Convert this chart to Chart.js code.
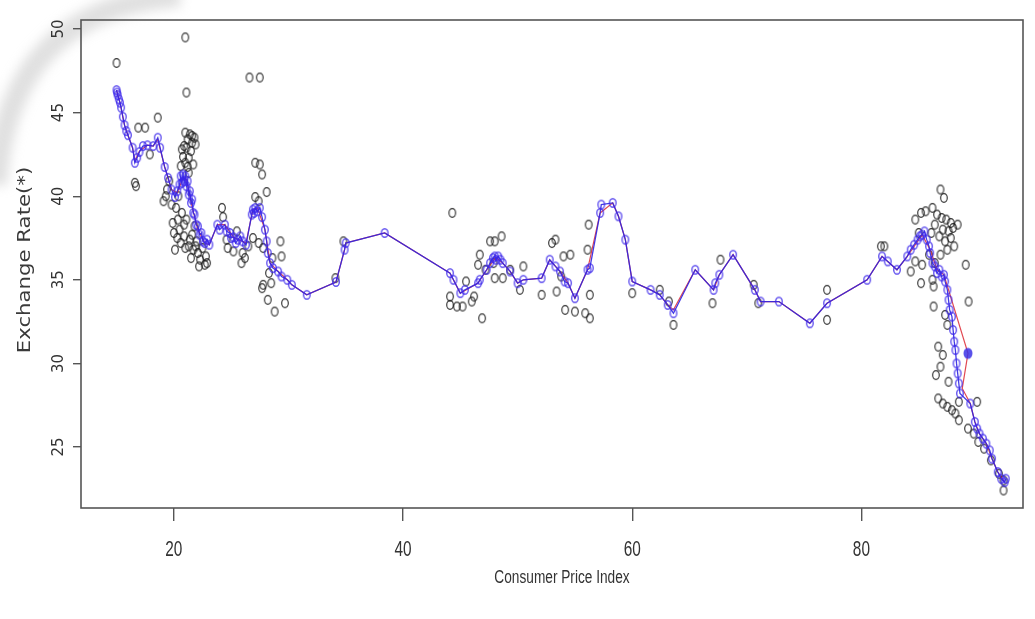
<!DOCTYPE html>
<html>
<head>
<meta charset="utf-8">
<script src="https://cdn.jsdelivr.net/npm/chart.js@4"></script>
<style>
  html, body { margin: 0; padding: 0; background: #ffffff; }
  #wrap { width: 1035px; height: 619px; position: relative; }
  canvas { display: block; }
</style>
</head>
<body>
<div id="wrap"><canvas id="c" width="1035" height="619"></canvas></div>
<script>
// ---------------- data ----------------
const xTickValues = [20, 40, 60, 80];
const xTickLabels = ['20', '40', '60', '80'];
const yTickValues = [25, 30, 35, 40, 45, 50];
const yTickLabels = ['25', '30', '35', '40', '45', '50'];
const xAxisTitle = 'Consumer Price Index';
const yAxisTitle = 'Exchange Rate(*)';

// observed points (black open circles)
const obsX = [15.0,21.0,21.1,18.6,16.9,17.5,16.6,16.7,17.9,19.4,19.6,
  21.0,21.4,21.8,21.6,21.2,20.7,21.1,21.6,20.8,21.2,21.5,21.9,20.9,21.3,21.7,21.0,21.3,20.6,
  20.35,20.5,20.3,20.9,21.4,21.7,22.1,22.7,22.3,20.7,21.1,21.9,20.1,20.0,20.2,21.3,21.6,22.0,22.5,22.8,21.0,21.5,22.2,20.6,20.9,21.8,19.9,20.4,19.8,19.3,19.1,
  24.2,24.3,24.7,25.2,26.0,25.9,22.9,26.9,25.5,26.5,24.6,26.2,
  26.6,27.5,27.1,27.5,27.7,27.1,28.1,27.4,29.3,29.4,27.8,27.7,28.5,28.2,28.8,29.7,27.4,27.8,28.6,28.3,
  34.1,34.8,44.3,44.1,44.1,44.7,45.2,46.0,46.9,46.7,46.55,47.6,48.0,48.6,48.0,48.7,50.5,50.2,53.0,53.3,54.0,52.1,53.4,54.15,55.0,55.9,56.3,56.1,56.2,56.3,49.35,47.2,47.9,45.5,46.2,53.8,54.6,
  60.0,62.4,63.6,63.2,67.7,67.0,71.0,70.6,77.0,77.0,81.7,
  86.9,87.2,84.7,85.2,85.6,86.2,86.6,87.0,87.4,87.8,86.4,87.1,87.6,88.0,86.8,87.3,87.8,86.1,88.1,87.5,86.9,89.1,89.35,84.7,85.3,85.2,84.3,82.0,86.2,86.3,86.3,87.3,87.5,86.7,87.1,86.9,86.5,87.6,86.7,87.1,87.5,87.9,88.2,88.5,89.3,89.8,90.2,90.7,91.3,90.1,88.5,92.0,92.4,92.4,85.9,86.4,88.4,85.0];
const obsY = [47.97,49.5,46.2,44.7,44.1,44.1,40.8,40.6,42.5,40.4,40.9,
  43.8,43.7,43.5,43.6,43.4,42.8,42.9,43.2,42.35,41.75,42.7,43.1,43.0,42.3,41.9,42.0,41.4,41.8,
  38.6,38.0,37.5,37.6,37.4,36.8,36.6,35.9,36.2,39.0,38.6,37.0,36.8,37.8,39.3,37.0,37.7,37.3,36.9,36.4,36.9,36.3,35.8,37.2,38.3,38.2,38.4,40.0,39.5,40.0,39.7,
  39.3,38.75,36.9,36.7,36.6,36.0,36.0,37.5,37.9,37.0,37.4,36.3,
  47.1,47.1,42.0,41.9,41.3,39.95,40.25,39.7,37.3,36.4,34.7,34.5,34.8,33.8,33.1,33.6,37.2,36.9,36.3,35.4,
  35.1,37.3,39.0,34.0,33.5,33.4,33.4,33.7,32.7,36.5,35.9,37.3,37.3,37.6,35.1,35.1,35.8,34.4,37.2,37.4,36.4,34.1,34.3,33.2,33.1,33.0,32.7,36.8,38.3,34.1,35.6,35.6,36.0,34.9,34.0,35.2,36.5,
  34.2,34.4,32.3,33.7,36.2,33.6,33.6,34.7,34.4,32.6,37.0,
  40.4,39.9,38.6,39.0,39.1,39.3,38.9,38.7,38.6,38.4,38.3,38.0,37.9,38.1,37.6,37.3,37.5,37.8,37.0,36.8,36.5,35.9,33.7,36.1,35.9,34.8,35.5,37.0,35.0,34.6,33.4,32.9,32.3,31.0,30.5,29.8,29.3,28.9,27.9,27.6,27.4,27.2,27.0,26.6,26.1,25.8,25.3,24.9,24.2,27.7,27.7,23.4,23.0,22.4,36.5,36.0,38.3,37.8];

// fitted path (blue line with blue circles)
const fitX = [15.0,15.05,15.1,15.2,15.3,15.4,15.55,15.7,15.85,16.0,16.4,16.6,16.8,17.0,17.3,17.7,18.2,18.6,18.8,19.2,19.5,19.8,20.1,20.3,20.5,
  20.6,20.7,20.8,20.9,21.0,21.1,21.2,21.3,21.4,21.5,21.6,21.7,21.8,21.95,22.1,22.25,22.4,22.55,22.7,22.9,23.1,
  23.8,24.0,24.45,24.6,24.9,25.0,25.2,25.4,25.6,25.8,26.0,26.3,26.8,26.9,27.0,27.1,27.3,27.5,27.7,27.95,28.1,28.2,28.4,28.65,29.1,29.4,29.9,30.3,31.6,34.15,34.9,35.0,38.4,
  44.1,44.4,45.0,45.4,46.55,46.7,47.3,47.6,47.85,48.0,48.1,48.3,48.5,48.7,49.35,50.0,50.5,52.1,52.8,53.3,53.7,54.1,54.4,55.0,56.1,56.3,57.2,57.3,58.3,58.8,59.4,60.0,61.6,62.4,63.1,63.6,
  65.5,67.1,67.25,67.6,68.8,70.7,71.2,72.8,75.5,77.0,80.5,81.8,82.3,83.1,84.0,84.3,84.6,84.9,85.1,85.3,85.5,85.7,85.9,86.0,86.2,86.4,86.6,86.8,87.0,87.2,87.3,87.5,87.6,87.7,87.9,88.0,88.1,88.2,88.3,88.4,88.5,88.6,
  89.5,89.9,90.1,90.3,90.6,90.9,91.2,91.4,91.9,92.2,92.5,92.6];
const fitY = [46.35,46.2,46.05,45.8,45.6,45.3,44.75,44.25,43.9,43.65,42.9,42.0,42.3,42.65,43.0,43.05,43.0,43.5,42.9,41.75,41.1,40.4,39.95,40.3,40.7,
  41.2,40.8,41.3,40.9,41.2,40.6,40.9,40.1,40.3,39.6,39.8,39.0,38.9,38.3,38.2,37.7,37.8,37.3,37.2,37.4,37.1,
  38.3,38.0,38.3,37.9,37.8,37.5,37.55,37.2,37.4,37.6,37.3,37.1,38.9,39.2,39.0,39.3,39.1,39.3,38.75,38.0,37.3,36.6,36.0,35.7,35.5,35.2,35.0,34.7,34.1,34.87,36.8,37.2,37.8,
  35.4,35.0,34.2,34.4,34.8,35.0,35.6,36.0,36.3,36.4,36.2,36.4,36.2,36.0,35.5,34.8,35.0,35.1,36.2,35.8,35.5,34.9,34.8,33.9,35.6,35.7,39.0,39.5,39.6,38.8,37.4,34.9,34.4,34.1,33.5,33.0,
  35.6,34.4,34.8,35.3,36.5,34.4,33.7,33.7,32.4,33.6,35.0,36.4,36.1,35.6,36.4,36.8,37.1,37.4,37.6,37.7,37.9,37.4,37.0,36.6,36.0,35.8,35.4,35.6,35.2,35.3,34.9,34.4,33.8,33.2,32.8,32.0,31.3,30.8,30.0,29.4,28.8,28.2,
  27.6,26.5,26.1,25.8,25.5,25.2,24.8,24.3,23.5,23.1,22.9,23.1];

// second fitted path (thin red line)
const redX = [15.0,15.3,15.7,16.0,16.4,16.6,17.0,17.7,18.2,18.6,19.2,19.8,20.3,20.8,21.1,21.6,22.1,22.7,23.1,
  23.8,24.45,25.2,26.0,26.3,26.9,27.3,27.95,28.4,29.1,29.9,30.3,31.6,34.15,34.9,35.0,38.4,
  44.1,45.0,46.55,47.3,48.1,48.7,49.35,50.0,50.5,52.1,52.8,53.7,54.4,55.0,56.1,57.2,58.3,58.8,59.4,60.0,61.6,62.4,63.1,63.6,
  65.5,67.1,67.6,68.8,70.7,71.2,72.8,75.5,77.0,80.5,81.8,83.1,84.0,85.3,86.0,86.6,87.2,89.3,88.8,89.5,
  89.9,90.3,90.9,91.4,91.9,92.5];
const redY = [46.35,45.6,44.25,43.65,42.9,42.1,42.7,43.05,43.0,43.4,41.75,40.4,40.2,41.1,41.0,39.35,38.0,37.2,37.1,
  38.3,38.3,37.55,37.3,37.2,39.2,39.3,38.0,36.0,35.5,35.0,34.7,34.1,34.87,36.8,37.2,37.8,
  35.4,34.2,34.8,35.6,36.35,36.0,35.5,34.8,35.0,35.1,36.2,35.5,34.8,33.9,35.6,39.0,39.6,38.8,37.4,34.9,34.4,34.1,33.5,33.2,
  35.6,34.4,35.3,36.5,34.4,33.7,33.7,32.4,33.6,35.0,36.4,35.6,36.4,37.7,36.8,35.6,35.3,30.6,28.5,27.6,
  26.5,25.8,25.2,24.3,23.5,22.9];

// extra highlighted fitted points (filled blue dots)
const dotX = [89.3];
const dotY = [30.6];

// ---------------- rendering ----------------
function ringImage(color, lw) {
  const c = document.createElement('canvas');
  c.width = 10; c.height = 12;
  const g = c.getContext('2d');
  g.strokeStyle = color;
  g.lineWidth = lw;
  g.beginPath();
  g.ellipse(5, 6, 3.3, 4.3, 0, 0, Math.PI * 2);
  g.stroke();
  return c;
}
function dotImage(color) {
  const c = document.createElement('canvas');
  c.width = 12; c.height = 14;
  const g = c.getContext('2d');
  g.fillStyle = color;
  g.beginPath();
  g.ellipse(6, 7, 4.5, 5.5, 0, 0, Math.PI * 2);
  g.fill();
  return c;
}
const blackRing = ringImage('rgba(25,25,25,0.9)', 1.15);
const blueRing = ringImage('rgba(60,40,235,0.8)', 1.4);
const blueDot = dotImage('rgba(60,50,230,0.85)');

const zip = (xs, ys) => xs.map((x, i) => ({ x: x, y: ys[i] }));

const bgPlugin = {
  id: 'bg',
  beforeDraw(chart) {
    const ctx = chart.ctx;
    ctx.save();
    ctx.fillStyle = '#ffffff';
    ctx.fillRect(0, 0, chart.width, chart.height);
    // faint slide decoration in the upper-left corner
    ctx.filter = 'blur(6px)';
    ctx.strokeStyle = 'rgba(180,180,180,0.42)';
    ctx.lineWidth = 22;
    ctx.beginPath();
    ctx.moveTo(-4, 185);
    ctx.quadraticCurveTo(8, 8, 180, -4);
    ctx.stroke();
    ctx.filter = 'none';
    ctx.restore();
  },
  afterDraw(chart) {
    const ctx = chart.ctx;
    const a = chart.chartArea;
    const xs = chart.scales.x;
    const ys = chart.scales.y;
    ctx.save();
    // plot box
    ctx.strokeStyle = '#555555';
    ctx.lineWidth = 1.6;
    ctx.strokeRect(a.left, a.top, a.right - a.left, a.bottom - a.top);
    // y tick labels, parallel to the axis
    ctx.fillStyle = '#333333';
    ctx.font = '15px "DejaVu Sans", sans-serif';
    ctx.textAlign = 'center';
    ctx.textBaseline = 'middle';
    yTickValues.forEach((v, i) => {
      const py = ys.getPixelForValue(v);
      ctx.save();
      ctx.translate(59, py);
      ctx.rotate(-Math.PI / 2);
      ctx.fillText(yTickLabels[i], 0, 0);
      ctx.restore();
    });
    // x tick labels (narrow, tall)
    ctx.font = '20px "Liberation Sans", sans-serif';
    xTickValues.forEach((v, i) => {
      const px = xs.getPixelForValue(v);
      ctx.save();
      ctx.translate(px, 550);
      ctx.scale(0.77, 1.1);
      ctx.fillText(xTickLabels[i], 0, 0);
      ctx.restore();
    });
    // y axis title
    ctx.save();
    ctx.translate(25, 260);
    ctx.rotate(-Math.PI / 2);
    ctx.scale(1.18, 1);
    ctx.font = '18px "DejaVu Sans", sans-serif';
    ctx.fillStyle = '#3a3a3a';
    ctx.fillText(yAxisTitle, 0, 0);
    ctx.restore();
    // x axis title
    ctx.save();
    ctx.translate((a.left + a.right) / 2 + 10, 578);
    ctx.scale(0.76, 1.05);
    ctx.font = '18px "Liberation Sans", sans-serif';
    ctx.fillStyle = '#333333';
    ctx.fillText(xAxisTitle, 0, 0);
    ctx.restore();
    ctx.restore();
  }
};

new Chart(document.getElementById('c'), {
  type: 'scatter',
  data: {
    datasets: [
      {
        label: 'fitted',
        data: zip(fitX, fitY),
        showLine: true,
        borderColor: 'rgba(45,35,225,0.9)',
        borderWidth: 1.3,
        pointStyle: blueRing,
        pointRadius: 4,
        order: 1
      },
      {
        label: 'fitted dots',
        data: zip(dotX, dotY),
        pointStyle: blueDot,
        pointRadius: 5,
        order: 0
      },
      {
        label: 'smoothed',
        data: zip(redX, redY),
        showLine: true,
        borderColor: 'rgba(220,40,50,0.85)',
        borderWidth: 1.2,
        pointRadius: 0,
        order: 2
      },
      {
        label: 'observed',
        data: zip(obsX, obsY),
        pointStyle: blackRing,
        pointRadius: 4,
        order: 3
      }
    ]
  },
  options: {
    responsive: false,
    animation: false,
    devicePixelRatio: 1,
    events: [],
    layout: { padding: { top: 20, right: 12, left: 0, bottom: 0 } },
    plugins: { legend: { display: false }, tooltip: { enabled: false } },
    scales: {
      x: {
        type: 'linear',
        min: 11.9,
        max: 94.1,
        afterBuildTicks: (s) => { s.ticks = xTickValues.map(v => ({ value: v })); },
        afterFit: (s) => { s.height = 111; },
        border: { display: false },
        grid: { drawOnChartArea: false, drawTicks: true, tickLength: 13, color: '#555555', lineWidth: 1.4 },
        ticks: { display: false }
      },
      y: {
        type: 'linear',
        min: 21.35,
        max: 50.54,
        afterBuildTicks: (s) => { s.ticks = yTickValues.map(v => ({ value: v })); },
        afterFit: (s) => { s.width = 81; },
        border: { display: false },
        grid: { drawOnChartArea: false, drawTicks: true, tickLength: 8, color: '#555555', lineWidth: 1.4 },
        ticks: { display: false }
      }
    }
  },
  plugins: [bgPlugin]
});
</script>
</body>
</html>
